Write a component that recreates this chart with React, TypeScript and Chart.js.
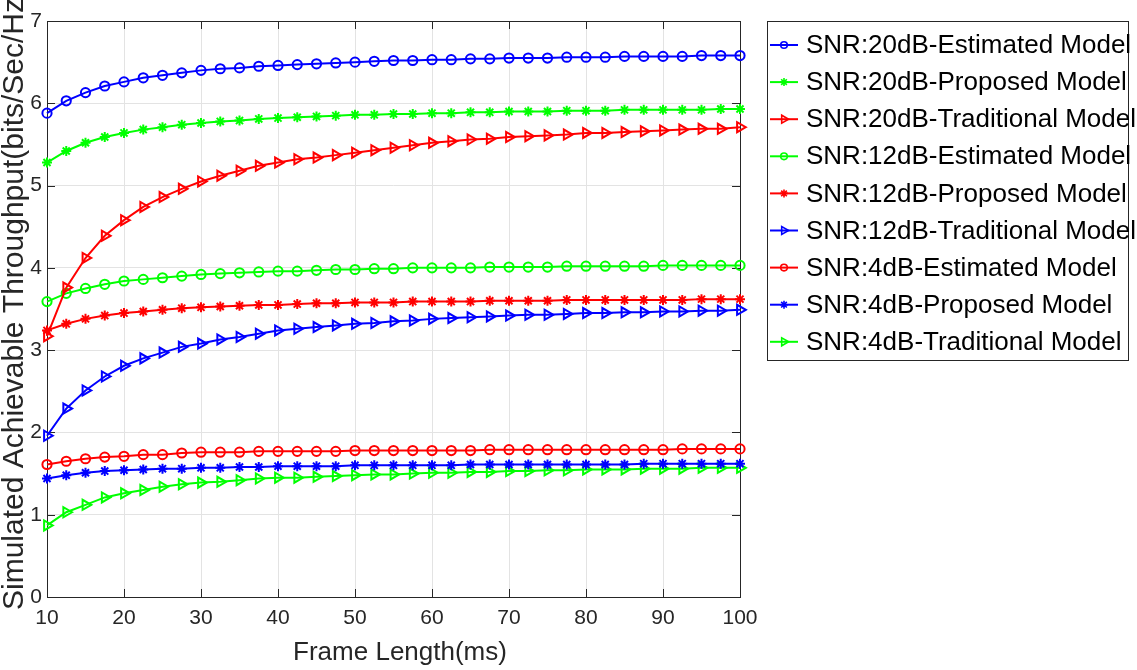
import React, { useEffect, useRef } from "react";
import { Chart, registerables } from "chart.js";

Chart.register(...registerables);

const frameLength = [
  10, 12.5, 15, 17.5, 20, 22.5, 25, 27.5, 30, 32.5, 35, 37.5, 40, 42.5, 45, 47.5, 50, 52.5, 55,
  57.5, 60, 62.5, 65, 67.5, 70, 72.5, 75, 77.5, 80, 82.5, 85, 87.5, 90, 92.5, 95, 97.5, 100,
];

const snr20Estimated = [
  5.88, 6.03, 6.13, 6.21, 6.26, 6.31, 6.34, 6.37, 6.40, 6.42, 6.43, 6.45, 6.46, 6.47, 6.48, 6.49,
  6.50, 6.51, 6.52, 6.52, 6.53, 6.53, 6.54, 6.54, 6.55, 6.55, 6.55, 6.56, 6.56, 6.56, 6.57, 6.57,
  6.57, 6.57, 6.58, 6.58, 6.58,
];
const snr20Proposed = [
  5.28, 5.42, 5.52, 5.59, 5.64, 5.68, 5.71, 5.74, 5.76, 5.78, 5.79, 5.81, 5.82, 5.83, 5.84, 5.85,
  5.86, 5.86, 5.87, 5.87, 5.88, 5.88, 5.89, 5.89, 5.90, 5.90, 5.90, 5.91, 5.91, 5.91, 5.92, 5.92,
  5.92, 5.92, 5.92, 5.93, 5.93,
];
const snr20Traditional = [
  3.17, 3.76, 4.12, 4.39, 4.58, 4.74, 4.86, 4.96, 5.05, 5.12, 5.18, 5.24, 5.28, 5.32, 5.34, 5.37,
  5.40, 5.43, 5.46, 5.49, 5.52, 5.54, 5.56, 5.57, 5.59, 5.60, 5.61, 5.62, 5.64, 5.64, 5.65, 5.66,
  5.67, 5.68, 5.69, 5.69, 5.71,
];
const snr12Estimated = [
  3.59, 3.69, 3.75, 3.80, 3.84, 3.86, 3.88, 3.90, 3.92, 3.93, 3.94, 3.95, 3.96, 3.96, 3.97, 3.98,
  3.98, 3.99, 3.99, 4.00, 4.00, 4.00, 4.00, 4.01, 4.01, 4.01, 4.01, 4.02, 4.02, 4.02, 4.02, 4.02,
  4.03, 4.03, 4.03, 4.03, 4.03,
];
const snr12Proposed = [
  3.24, 3.32, 3.38, 3.42, 3.45, 3.47, 3.49, 3.51, 3.52, 3.53, 3.54, 3.55, 3.55, 3.56, 3.57, 3.57,
  3.58, 3.58, 3.58, 3.59, 3.59, 3.59, 3.59, 3.60, 3.60, 3.60, 3.60, 3.61, 3.61, 3.61, 3.61, 3.61,
  3.61, 3.61, 3.62, 3.62, 3.62,
];
const snr12Traditional = [
  1.96, 2.29, 2.51, 2.68, 2.81, 2.90, 2.97, 3.04, 3.08, 3.13, 3.16, 3.20, 3.24, 3.26, 3.28, 3.30,
  3.32, 3.33, 3.35, 3.36, 3.38, 3.39, 3.40, 3.41, 3.42, 3.43, 3.43, 3.44, 3.45, 3.45, 3.46, 3.46,
  3.47, 3.47, 3.48, 3.48, 3.49,
];
const snr4Estimated = [
  1.61, 1.65, 1.68, 1.70, 1.71, 1.73, 1.73, 1.75, 1.76, 1.76, 1.76, 1.77, 1.77, 1.77, 1.77, 1.77,
  1.78, 1.78, 1.78, 1.78, 1.78, 1.78, 1.78, 1.79, 1.79, 1.79, 1.79, 1.79, 1.79, 1.79, 1.79, 1.79,
  1.79, 1.80, 1.80, 1.80, 1.80,
];
const snr4Proposed = [
  1.44, 1.48, 1.51, 1.53, 1.54, 1.55, 1.56, 1.56, 1.57, 1.57, 1.58, 1.58, 1.59, 1.59, 1.59, 1.59,
  1.60, 1.60, 1.60, 1.60, 1.60, 1.60, 1.61, 1.61, 1.61, 1.61, 1.61, 1.61, 1.61, 1.61, 1.61, 1.62,
  1.62, 1.62, 1.62, 1.62, 1.62,
];
const snr4Traditional = [
  0.87, 1.03, 1.12, 1.21, 1.26, 1.30, 1.34, 1.37, 1.39, 1.40, 1.42, 1.44, 1.45, 1.45, 1.46, 1.47,
  1.48, 1.49, 1.49, 1.50, 1.51, 1.51, 1.52, 1.52, 1.53, 1.53, 1.54, 1.54, 1.55, 1.55, 1.55, 1.56,
  1.56, 1.56, 1.57, 1.57, 1.57,
];

const xTicks = [10, 20, 30, 40, 50, 60, 70, 80, 90, 100];
const yTicks = [0, 1, 2, 3, 4, 5, 6, 7];

const xTitle = "Frame Length(ms)";
const yTitle = "Simulated Achievable Throughput(bits/Sec/Hz)";

const BLUE = "#0000ff";
const GREEN = "#00ff00";
const RED = "#ff0000";
const AXIS = "#262626";
const FONT = "'Liberation Sans', Arial, Helvetica, sans-serif";
const TICK_FONT = "'Liberation Sans Narrow', 'Arial Narrow', 'Liberation Sans', Arial, sans-serif";

function drawMarker(ctx: CanvasRenderingContext2D, style: string, x: number, y: number, r: number) {
  ctx.beginPath();
  if (style === "circle") {
    ctx.arc(x, y, r, 0, Math.PI * 2);
  } else if (style === "star") {
    for (let k = 0; k < 4; k++) {
      const a = (k * Math.PI) / 4;
      ctx.moveTo(x - Math.cos(a) * r, y - Math.sin(a) * r);
      ctx.lineTo(x + Math.cos(a) * r, y + Math.sin(a) * r);
    }
  } else {
    ctx.moveTo(x + r, y);
    ctx.lineTo(x - r * 0.5, y - r * 0.866);
    ctx.lineTo(x - r * 0.5, y + r * 0.866);
    ctx.closePath();
  }
  ctx.stroke();
}

const boxPlugin = {
  id: "matlabBox",
  beforeDatasetsDraw(chart: any) {
    const { ctx, chartArea } = chart;
    const { left, right, top, bottom } = chartArea;
    const xs = chart.scales.x;
    const ys = chart.scales.y;
    ctx.save();
    ctx.strokeStyle = AXIS;
    ctx.lineWidth = 1;
    ctx.strokeRect(Math.round(left) + 0.5, Math.round(top) + 0.5, Math.round(right - left), Math.round(bottom - top));
    const tl = 8;
    ctx.beginPath();
    xTicks.forEach((v) => {
      const px = Math.round(xs.getPixelForValue(v)) + 0.5;
      ctx.moveTo(px, bottom);
      ctx.lineTo(px, bottom - tl);
      ctx.moveTo(px, top);
      ctx.lineTo(px, top + tl);
    });
    yTicks.forEach((v) => {
      const py = Math.round(ys.getPixelForValue(v)) + 0.5;
      ctx.moveTo(left, py);
      ctx.lineTo(left + tl, py);
      ctx.moveTo(right, py);
      ctx.lineTo(right - tl, py);
    });
    ctx.stroke();
    ctx.restore();
  },
};

const titlesPlugin = {
  id: "axisTitles",
  afterDraw(chart: any) {
    const { ctx } = chart;
    ctx.save();
    ctx.fillStyle = AXIS;
    ctx.font = `26px ${FONT}`;
    ctx.textAlign = "center";
    ctx.textBaseline = "alphabetic";
    ctx.fillText(xTitle, 400, 660);
    ctx.translate(22.5, 299);
    ctx.rotate(-Math.PI / 2);
    ctx.font = `30px ${FONT}`;
    ctx.fillText(yTitle, 0, 0);
    ctx.restore();
  },
};

const legendPlugin = {
  id: "matlabLegend",
  afterDraw(chart: any) {
    const { ctx } = chart;
    const bx = 767.5;
    const by = 21.5;
    const bw = 361;
    const bh = 339;
    ctx.save();
    ctx.fillStyle = "#ffffff";
    ctx.fillRect(bx, by, bw, bh);
    ctx.strokeStyle = AXIS;
    ctx.lineWidth = 1;
    ctx.strokeRect(bx, by, bw, bh);
    chart.data.datasets.forEach((ds: any, i: number) => {
      const cy = 45 + i * 37.1;
      ctx.strokeStyle = ds.borderColor;
      ctx.lineWidth = 2;
      ctx.beginPath();
      ctx.moveTo(770, cy);
      ctx.lineTo(798, cy);
      ctx.stroke();
      ctx.lineWidth = 1.6;
      drawMarker(ctx, ds.pointStyle, 784, cy, ds.pointStyle === "triangle" ? 4.6 : ds.pointStyle === "star" ? 4 : 3.3);
      ctx.fillStyle = "#000000";
      ctx.font = `26px ${FONT}`;
      ctx.textAlign = "left";
      ctx.textBaseline = "middle";
      ctx.fillText(ds.label, 806, cy + 1);
    });
    ctx.restore();
  },
};

export default function App() {
  const ref = useRef<HTMLCanvasElement>(null);

  useEffect(() => {
    const canvas = ref.current;
    if (!canvas) return;

    const mk = (label: string, values: number[], color: string, style: string) => ({
      label,
      data: frameLength.map((x, i) => ({ x, y: values[i] })),
      borderColor: color,
      backgroundColor: color,
      borderWidth: 2,
      pointStyle: style,
      pointRadius: style === "triangle" ? 5.8 : style === "star" ? 5 : 4.6,
      pointRotation: style === "triangle" ? 90 : 0,
      pointBorderColor: color,
      pointBackgroundColor: "rgba(0,0,0,0)",
      pointBorderWidth: 2,
      tension: 0,
      fill: false,
      clip: false,
    });

    const chart = new Chart(canvas, {
      type: "line",
      data: {
        datasets: [
          mk("SNR:20dB-Estimated Model", snr20Estimated, BLUE, "circle"),
          mk("SNR:20dB-Proposed Model", snr20Proposed, GREEN, "star"),
          mk("SNR:20dB-Traditional Model", snr20Traditional, RED, "triangle"),
          mk("SNR:12dB-Estimated Model", snr12Estimated, GREEN, "circle"),
          mk("SNR:12dB-Proposed Model", snr12Proposed, RED, "star"),
          mk("SNR:12dB-Traditional Model", snr12Traditional, BLUE, "triangle"),
          mk("SNR:4dB-Estimated Model", snr4Estimated, RED, "circle"),
          mk("SNR:4dB-Proposed Model", snr4Proposed, BLUE, "star"),
          mk("SNR:4dB-Traditional Model", snr4Traditional, GREEN, "triangle"),
        ] as any,
      },
      options: {
        animation: false,
        responsive: true,
        maintainAspectRatio: false,
        events: [],
        layout: { padding: { left: 0, right: 397, top: 21, bottom: 0 } },
        plugins: {
          legend: { display: false },
          tooltip: { enabled: false },
          title: { display: false },
        },
        scales: {
          x: {
            type: "linear",
            min: 10,
            max: 100,
            afterFit: (s: any) => {
              s.height = 73;
            },
            afterBuildTicks: (s: any) => {
              s.ticks = xTicks.map((v) => ({ value: v }));
            },
            ticks: {
              font: { family: TICK_FONT, size: 21 },
              color: AXIS,
              padding: 9,
              maxRotation: 0,
              autoSkip: false,
            },
            grid: { color: "#e3e3e3", lineWidth: 1, drawTicks: false },
            border: { display: false },
            title: { display: false },
          },
          y: {
            type: "linear",
            min: 0,
            max: 7,
            afterFit: (s: any) => {
              s.width = 47;
            },
            afterBuildTicks: (s: any) => {
              s.ticks = yTicks.map((v) => ({ value: v }));
            },
            ticks: {
              font: { family: TICK_FONT, size: 21 },
              color: AXIS,
              padding: 5,
              autoSkip: false,
            },
            grid: { color: "#e3e3e3", lineWidth: 1, drawTicks: false },
            border: { display: false },
            title: { display: false },
          },
        },
      } as any,
      plugins: [boxPlugin, titlesPlugin, legendPlugin],
    });

    return () => {
      chart.destroy();
    };
  }, []);

  return (
    <div
      style={{
        position: "fixed",
        left: 0,
        top: 0,
        width: 1137,
        height: 670,
        background: "#ffffff",
      }}
    >
      <canvas ref={ref} />
    </div>
  );
}
